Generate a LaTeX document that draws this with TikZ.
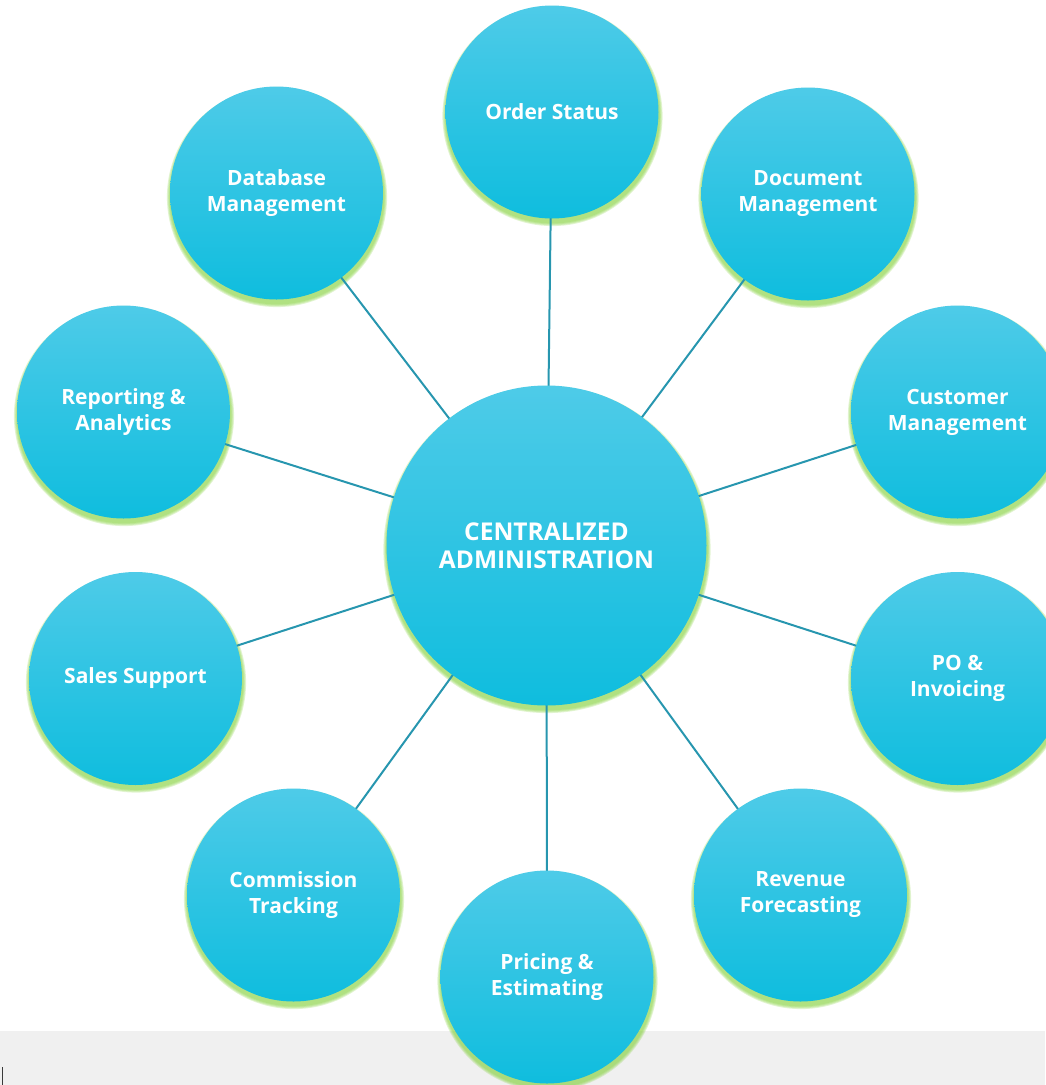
\documentclass[tikz,border=0pt]{standalone}
\usepackage{fontspec}
\setmainfont{Open Sans}
\usepackage{tikz}
\usetikzlibrary{backgrounds}
\definecolor{bubbletop}{HTML}{4ECBE8}
\definecolor{bubblemid}{HTML}{1ECCEB}
\definecolor{bubblebot}{HTML}{0FBDDE}
\definecolor{glowgreen}{HTML}{8CD448}
\definecolor{spoke}{HTML}{2796AF}
\definecolor{strip}{HTML}{F0F0F0}
\definecolor{caret}{HTML}{3A3A3A}

\begin{document}
\begin{tikzpicture}[x=1pt, y=-1pt,
	bubble/.style={circle, minimum size=213pt, inner sep=0pt, top color=bubbletop, middle color=bubblemid, bottom color=bubblebot, text=white, align=center, font=\bfseries\fontsize{21}{26}\selectfont},
	hub/.style={bubble, minimum size=320pt, font=\bfseries\fontsize{24.5}{28}\selectfont},
	glow/.style={fill=glowgreen, opacity=.25},
	spokeline/.style={draw=spoke, line width=2pt}]
	\useasboundingbox (0,0) rectangle (1045,1085);

	\node[hub] (admin) at (546.5,545.5) {CENTRALIZED\\ADMINISTRATION};	% hub

	\node[bubble] (order) at (552,112) {Order Status};	% ring, clockwise
	\node[bubble] (doc) at (808,194) {Document\\Management};
	\node[bubble] (cust) at (957.5,412) {Customer\\Management};
	\node[bubble] (po) at (957.5,678.5) {PO \&\\Invoicing};
	\node[bubble] (rev) at (800.5,895) {Revenue\\Forecasting};
	\node[bubble] (price) at (547,977) {Pricing \&\\Estimating};
	\node[bubble] (comm) at (293.5,895) {Commission\\Tracking};
	\node[bubble] (sales) at (135.5,678.5) {Sales Support};
	\node[bubble] (report) at (123.5,412) {Reporting \&\\Analytics};
	\node[bubble] (db) at (276.5,193) {Database\\Management};

	\begin{scope}[on background layer]
	\fill[strip] (0,1031) rectangle (1045,1085);	% bottom band
	\draw[caret, line width=1.2pt] (2.5,1067) -- (2.5,1085);

	\foreach \n/\r in {admin/160, order/106.5, doc/106.5, cust/106.5, po/106.5, rev/106.5, price/106.5, comm/106.5, sales/106.5, report/106.5, db/106.5}
		\foreach \k in {1,...,4}
			\fill[glow] ([shift={(.5,4)}]\n.center) circle ({\r pt + \k*0.9pt});	% green glow

	\draw[spokeline] (admin.center) -- (order.center);	% spokes
	\draw[spokeline] (admin.center) -- (doc.center);
	\draw[spokeline] (admin.center) -- (cust.center);
	\draw[spokeline] (admin.center) -- (po.center);
	\draw[spokeline] (admin.center) -- (rev.center);
	\draw[spokeline] (admin.center) -- (price.center);
	\draw[spokeline] (admin.center) -- (comm.center);
	\draw[spokeline] (admin.center) -- (sales.center);
	\draw[spokeline] (admin.center) -- (report.center);
	\draw[spokeline] (admin.center) -- (db.center);
	\end{scope}
\end{tikzpicture}
\end{document}
